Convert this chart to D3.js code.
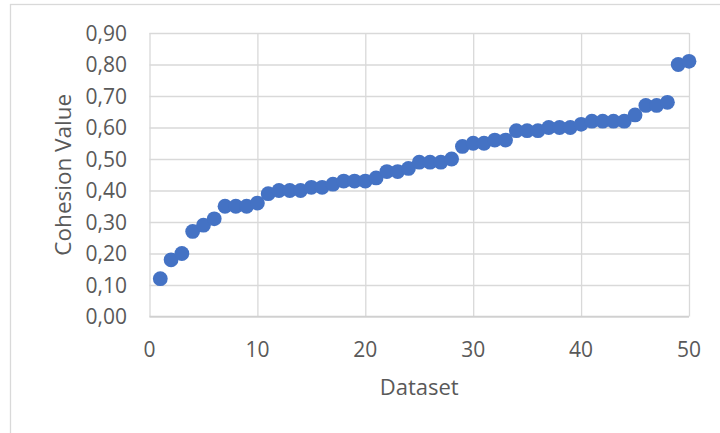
<html>
  <script src="https://d3js.org/d3.v7.min.js"></script>
  <body style="margin:0;background:#fff">
    <div id="svgcontainer"></div>
    <script>
      // data
      var datasetIds = d3.range(1, 51);
      var cohesion = [0.12, 0.18, 0.20, 0.27, 0.29, 0.31, 0.35, 0.35, 0.35, 0.36,
                      0.39, 0.40, 0.40, 0.40, 0.41, 0.41, 0.42, 0.43, 0.43, 0.43,
                      0.44, 0.46, 0.46, 0.47, 0.49, 0.49, 0.49, 0.50, 0.54, 0.55,
                      0.55, 0.56, 0.56, 0.59, 0.59, 0.59, 0.60, 0.60, 0.60, 0.61,
                      0.62, 0.62, 0.62, 0.62, 0.64, 0.67, 0.67, 0.68, 0.80, 0.81];
      var xTicks = [0, 10, 20, 30, 40, 50];
      var yTicks = [0, 0.1, 0.2, 0.3, 0.4, 0.5, 0.6, 0.7, 0.8, 0.9];
      var xTitle = "Dataset";
      var yTitle = "Cohesion Value";

      var width = 720;
      var height = 433;
      var svg = d3.select("#svgcontainer")
        .append("svg").attr("width", width).attr("height", height)
        .style("font-family", "'Open Sans', sans-serif");

      // outer chart frame (runs off the right and bottom edge)
      svg.append("rect")
        .attr("x", 10.5).attr("y", 4.5)
        .attr("width", 760).attr("height", 480)
        .attr("fill", "none").attr("stroke", "#d9d9d9").attr("stroke-width", 1.3);

      // plot area
      var pLeft = 149.5, pRight = 689, pTop = 33, pBottom = 316.5;
      var x = d3.scaleLinear().domain([0, 50]).range([pLeft, pRight]);
      var y = d3.scaleLinear().domain([0, 0.9]).range([pBottom, pTop]);

      // grid
      svg.append("g")
        .attr("transform", "translate(" + pLeft + ",0)")
        .call(d3.axisLeft(y).tickValues(yTicks).tickSize(-(pRight - pLeft)).tickFormat(""))
        .call(function(g) { g.select(".domain").remove(); })
        .selectAll("line").attr("stroke", "#d9d9d9").attr("stroke-width", 1.3);

      svg.append("g")
        .attr("transform", "translate(0," + pBottom + ")")
        .call(d3.axisBottom(x).tickValues(xTicks).tickSize(-(pBottom - pTop)).tickFormat(""))
        .call(function(g) { g.select(".domain").remove(); })
        .selectAll("line").attr("stroke", "#d9d9d9").attr("stroke-width", 1.3);

      // axis line
      svg.append("line")
        .attr("x1", pLeft).attr("x2", pRight)
        .attr("y1", pBottom).attr("y2", pBottom)
        .attr("stroke", "#d0d0d0").attr("stroke-width", 1.3);

      // tick labels
      var fmt = function(d) { return d3.format(".2f")(d).replace(".", ","); };
      svg.append("g").selectAll("text")
        .data(yTicks).enter().append("text")
        .attr("x", 127)
        .attr("y", function(d) { return y(d); })
        .attr("dy", "0.36em")
        .attr("text-anchor", "end")
        .attr("fill", "#595959")
        .style("font-size", "21px")
        .text(fmt);

      svg.append("g").selectAll("text")
        .data(xTicks).enter().append("text")
        .attr("x", function(d) { return x(d); })
        .attr("y", 356.5)
        .attr("text-anchor", "middle")
        .attr("fill", "#595959")
        .style("font-size", "21px")
        .text(function(d) { return d; });

      // axis titles
      svg.append("text")
        .attr("x", (pLeft + pRight) / 2).attr("y", 395)
        .attr("text-anchor", "middle")
        .attr("fill", "#595959")
        .style("font-size", "22px")
        .text(xTitle);

      svg.append("text")
        .attr("transform", "translate(71," + (pTop + pBottom) / 2 + ") rotate(-90)")
        .attr("text-anchor", "middle")
        .attr("fill", "#595959")
        .style("font-size", "22.5px")
        .text(yTitle);

      // points
      svg.append("g").selectAll("circle")
        .data(cohesion).enter().append("circle")
        .attr("cx", function(d, i) { return x(datasetIds[i]); })
        .attr("cy", function(d) { return y(d); })
        .attr("r", 7.4)
        .attr("fill", "#4472c4");
    </script>
  </body>
</html>
